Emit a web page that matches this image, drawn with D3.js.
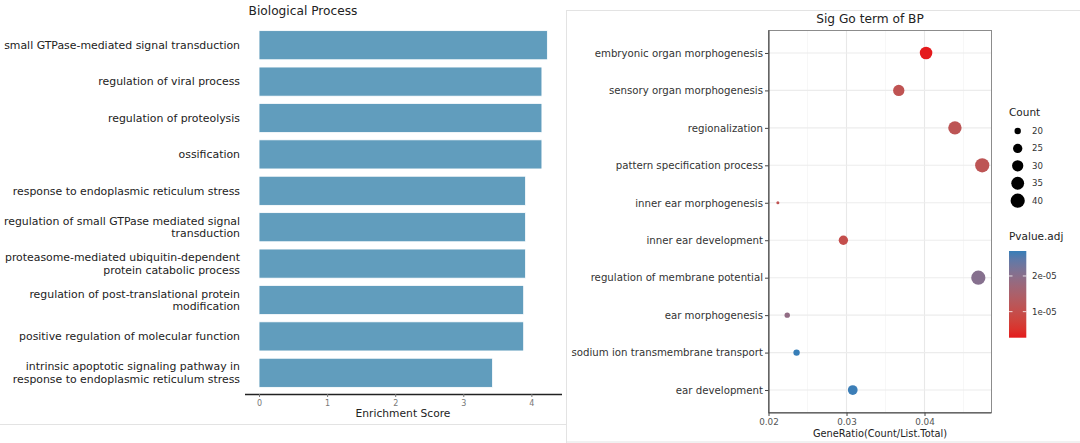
<!DOCTYPE html>
<html><head><meta charset="utf-8">
<script src="https://cdn.jsdelivr.net/npm/d3@7"></script>
<style>body{margin:0;background:#fff}svg{display:block;font-family:"DejaVu Sans",sans-serif}</style>
</head><body>
<svg id="c" width="1080" height="443"></svg>
<script>
// ---- Left chart data ----
const bpTerms = [
  "small GTPase-mediated signal transduction",
  "regulation of viral process",
  "regulation of proteolysis",
  "ossification",
  "response to endoplasmic reticulum stress",
  "regulation of small GTPase mediated signal\ntransduction",
  "proteasome-mediated ubiquitin-dependent\nprotein catabolic process",
  "regulation of post-translational protein\nmodification",
  "positive regulation of molecular function",
  "intrinsic apoptotic signaling pathway in\nresponse to endoplasmic reticulum stress"
];
const bpScores = [4.235, 4.155, 4.155, 4.155, 3.915, 3.915, 3.915, 3.887, 3.887, 3.43];
const bpTicks = [0, 1, 2, 3, 4];

// ---- Right chart data ----
const goTerms = [
  "embryonic organ morphogenesis","sensory organ morphogenesis","regionalization",
  "pattern specification process","inner ear morphogenesis","inner ear development",
  "regulation of membrane potential","ear morphogenesis","sodium ion transmembrane transport",
  "ear development"
];
const goRatio = [0.0402, 0.0367, 0.0439, 0.0474, 0.0212, 0.0296, 0.0469, 0.0224, 0.0236, 0.0308];
const goCount = [34, 30, 37, 40, 18, 25, 40, 19, 20, 26];
const goPadj  = [2.7e-6, 1.1e-5, 1.15e-5, 1.15e-5, 1.1e-5, 1.0e-5, 2.05e-5, 1.9e-5, 2.7e-5, 2.68e-5];
const ratioTicks = [0.02, 0.03, 0.04];
const countLegend = [20, 25, 30, 35, 40];
const padjTicks = [1e-5, 2e-5];

const svg = d3.select("#c");

// frames
svg.append("path").attr("d","M0,424.5H566.5V443").attr("fill","none").attr("stroke","#e3e3e3");
svg.append("rect").attr("x",566.5).attr("y",10.5).attr("width",520).attr("height",431.5)
  .attr("fill","none").attr("stroke","#e3e3e3");

// ===== Left: bar chart =====
(function(){
  const x = d3.scaleLinear().domain([-0.206, 4.45]).range([245, 562]);
  const y = d3.scaleBand().domain(bpTerms).range([27, 391]).paddingInner(0.2).paddingOuter(0.1);
  const g = svg.append("g");
  g.selectAll("rect.bar").data(bpTerms).join("rect").attr("class","bar")
    .attr("x", x(0)).attr("y", d => y(d))
    .attr("width", (d,i) => x(bpScores[i]) - x(0)).attr("height", y.bandwidth())
    .attr("fill", "#619dbd").attr("stroke","#ffffff").attr("stroke-width",0.8);
  bpTerms.forEach(t => {
    const lines = t.split("\n");
    const cy = y(t) + y.bandwidth()/2;
    const lh = 12.4;
    lines.forEach((ln, k) => {
      g.append("text").attr("x", 240).attr("y", cy + (k - (lines.length-1)/2)*lh)
        .attr("dy","0.35em").attr("text-anchor","end").attr("font-size",10.9).attr("fill","#222")
        .text(ln);
    });
  });
  const ax = g.append("g").attr("transform","translate(0,394)")
    .call(d3.axisBottom(x).tickValues(bpTicks).tickSize(3).tickPadding(3).tickFormat(d3.format("d")));
  ax.select(".domain").attr("stroke","#222").attr("stroke-width",1.3).attr("d","M245,0.5H562");
  ax.selectAll(".tick line").attr("stroke","#777");
  ax.selectAll(".tick text").attr("font-size",8).attr("fill","#777").attr("font-family","DejaVu Sans");
  g.append("text").attr("x",403).attr("y",413.5).attr("dy","0.35em").attr("text-anchor","middle")
    .attr("font-size",10.7).attr("fill","#222").text("Enrichment Score");
  g.append("text").attr("x",303).attr("y",11).attr("dy","0.35em").attr("text-anchor","middle")
    .attr("font-size",12.2).attr("fill","#222").text("Biological Process");
})();

// ===== Right: dot plot =====
(function(){
  const L = 768.5, R = 991.5, T = 30.5, B = 412.5;
  const x = d3.scaleLinear().domain([0.02, 0.02 + (R-L)/7800]).range([L, R]);
  const y = d3.scalePoint().domain(goTerms).range([T, B]).padding(0.6);
  const cmin = d3.min(goCount), cmax = d3.max(goCount);
  const sz = d3.scaleSqrt().domain([0, cmax - cmin]).range([0, 1]);
  const r = c => 1.5 + 5.6 * sz(c - cmin);
  const pmin = d3.min(goPadj), pmax = d3.max(goPadj);
  const col = d3.scaleLinear().domain([pmin, pmax]).range(["#e41a1c", "#377eb8"]).interpolate(d3.interpolateLab);
  const g = svg.append("g");
  g.append("rect").attr("x",L).attr("y",T).attr("width",R-L).attr("height",B-T).attr("fill","#fff");
  const minor = [0.025, 0.035, 0.045];
  g.selectAll("line.mn").data(minor).join("line").attr("x1",d=>x(d)).attr("x2",d=>x(d))
    .attr("y1",T).attr("y2",B).attr("stroke","#f2f2f2").attr("stroke-width",0.6);
  g.selectAll("line.mj").data(ratioTicks).join("line").attr("x1",d=>x(d)).attr("x2",d=>x(d))
    .attr("y1",T).attr("y2",B).attr("stroke","#e8e8e8").attr("stroke-width",1.1);
  g.selectAll("line.hy").data(goTerms).join("line").attr("x1",L).attr("x2",R)
    .attr("y1",d=>y(d)).attr("y2",d=>y(d)).attr("stroke","#ececec").attr("stroke-width",1.1);
  g.append("rect").attr("x",L).attr("y",T).attr("width",R-L).attr("height",B-T)
    .attr("fill","none").attr("stroke","#8c8c8c").attr("stroke-width",1);
  g.selectAll("circle.pt").data(goTerms).join("circle")
    .attr("cx",(d,i)=>x(goRatio[i])).attr("cy",d=>y(d)).attr("r",(d,i)=>r(goCount[i]))
    .attr("fill",(d,i)=>col(goPadj[i]));
  const ay = g.append("g").attr("transform",`translate(${L},0)`)
    .call(d3.axisLeft(y).tickSize(3.5).tickPadding(2));
  ay.select(".domain").attr("stroke","#444").attr("stroke-width",1.1).attr("d",`M0.5,${T}V${B}`);
  ay.selectAll(".tick line").attr("stroke","#444");
  ay.selectAll(".tick text").attr("font-size",10.2).attr("fill","#333").attr("font-family","DejaVu Sans");
  const axb = g.append("g").attr("transform",`translate(0,${B})`)
    .call(d3.axisBottom(x).tickValues(ratioTicks).tickSize(3.5).tickPadding(2.5).tickFormat(d3.format(".2f")));
  axb.select(".domain").attr("stroke","#444").attr("stroke-width",1.1).attr("d",`M${L},0.5H${R}`);
  axb.selectAll(".tick line").attr("stroke","#444");
  axb.selectAll(".tick text").attr("font-size",8.8).attr("fill","#555").attr("font-family","DejaVu Sans");
  g.append("text").attr("x",880).attr("y",433.5).attr("dy","0.35em").attr("text-anchor","middle")
    .attr("font-size",9.8).attr("fill","#222").text("GeneRatio(Count/List.Total)");
  g.append("text").attr("x",870).attr("y",19).attr("dy","0.35em").attr("text-anchor","middle")
    .attr("font-size",12.2).attr("fill","#222").text("Sig Go term of BP");

  g.append("text").attr("x",1009).attr("y",112).attr("dy","0.35em").attr("font-size",10.5)
    .attr("fill","#222").text("Count");
  const ly = d3.scalePoint().domain(countLegend).range([131, 200.7]);
  countLegend.forEach(c => {
    g.append("circle").attr("cx",1017.7).attr("cy",ly(c)).attr("r",r(c)).attr("fill","#000");
    g.append("text").attr("x",1032).attr("y",ly(c)).attr("dy","0.35em").attr("font-size",8.6)
      .attr("fill","#333").text(c);
  });
  g.append("text").attr("x",1009).attr("y",236.5).attr("dy","0.35em").attr("font-size",10.5)
    .attr("fill","#222").text("Pvalue.adj");
  const cb = d3.scaleLinear().domain([pmin, pmax]).range([337.7, 251]);
  const defs = svg.append("defs");
  const grad = defs.append("linearGradient").attr("id","pg").attr("x1",0).attr("y1",1).attr("x2",0).attr("y2",0);
  d3.range(0, 1.0001, 0.1).forEach(t => {
    grad.append("stop").attr("offset", t).attr("stop-color", col(pmin + t*(pmax-pmin)));
  });
  g.append("rect").attr("x",1009).attr("y",251).attr("width",17.3).attr("height",86.7).attr("fill","url(#pg)");
  padjTicks.forEach(p => {
    const yy = cb(p);
    g.append("line").attr("x1",1009).attr("x2",1012.5).attr("y1",yy).attr("y2",yy).attr("stroke","#fff").attr("stroke-width",0.8);
    g.append("line").attr("x1",1022.8).attr("x2",1026.3).attr("y1",yy).attr("y2",yy).attr("stroke","#fff").attr("stroke-width",0.8);
    g.append("text").attr("x",1032).attr("y",yy).attr("dy","0.35em").attr("font-size",8.6)
      .attr("fill","#333").text(d3.format(".0e")(p).replace("e-5","e-05"));
  });
})();
</script>
</body></html>
